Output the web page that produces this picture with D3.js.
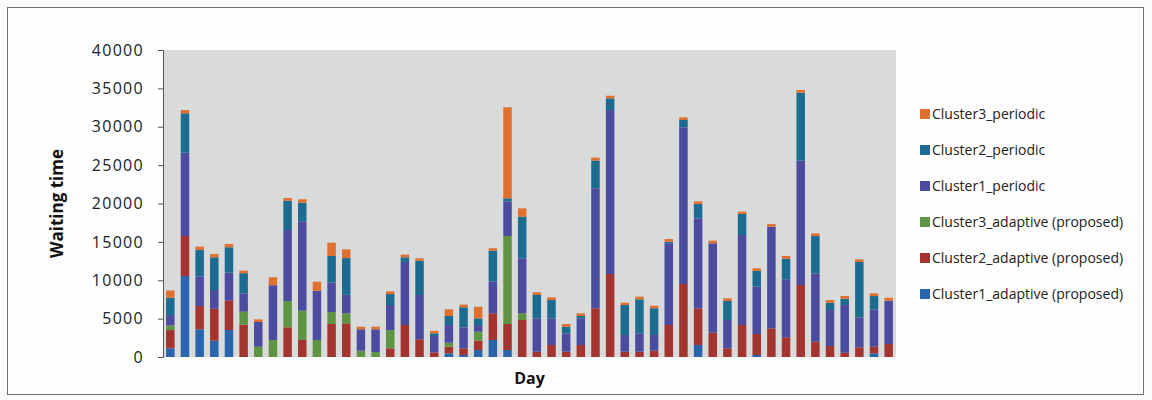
<!DOCTYPE html>
<html>
<head>
<meta charset="utf-8">
<script src="https://cdn.jsdelivr.net/npm/d3@7"></script>
<style>
  html, body { margin: 0; padding: 0; background: #fbfbfb; }
  svg { display: block; }
</style>
</head>
<body>
<svg id="chart" width="1152" height="400"></svg>
<script>
// Days 1..50
const days = d3.range(1, 51).map(String);

// Waiting time per day, one array per series (stacked bottom to top)
const cluster1Adaptive = [1130,10550,3610,2120,3520,0,0,0,0,0,0,0,0,0,0,0,0,0,0,480,260,910,2220,910,0,0,0,0,0,0,0,0,0,0,0,0,1560,0,0,0,260,0,0,0,0,0,0,0,480,0];
const cluster2Adaptive = [2380,5210,3040,4170,3820,4210,0,0,3870,2220,0,4300,4390,0,0,1130,4170,2310,610,860,870,1210,3480,3390,4820,690,1560,690,1560,6350,10810,690,690,820,4170,9510,4780,3170,1130,4170,2740,3740,2570,9380,1990,1430,560,1260,860,1690];
const cluster3Adaptive = [610,0,0,0,0,1690,1340,2220,3430,3820,2220,1560,1300,820,650,2380,0,0,0,520,0,1170,0,11470,870,0,0,0,0,0,0,0,0,0,0,0,0,0,0,0,0,0,0,0,0,0,0,0,0,0];
const cluster1Periodic = [1340,10860,3820,2440,3650,2400,3220,7130,9250,11650,6420,3820,2420,2790,2960,3260,8210,5770,2120,2310,2740,870,4120,4470,7170,4350,3480,2400,3480,15640,21370,2180,2400,2050,10650,20420,11730,11650,3690,11730,6160,13240,7560,16200,8910,4690,6220,3910,4870,5640];
const cluster2Periodic = [2250,5130,3480,4260,3310,2610,0,0,3820,2420,0,3480,4780,0,0,1430,610,4470,350,1170,2610,870,4040,440,5420,3040,2380,860,300,3600,1520,3910,4430,3480,200,950,1860,0,2480,2740,2050,0,2680,8860,4860,950,820,7210,1730,0];
const cluster3Periodic = [960,430,430,430,430,340,350,1040,350,440,1170,1730,1130,340,340,350,350,310,340,870,350,1510,310,11860,1090,350,350,350,350,390,340,300,340,340,350,350,350,340,350,300,350,350,350,350,350,350,350,350,350,390];

const seriesNames = [
  "Cluster1_adaptive (proposed)",
  "Cluster2_adaptive (proposed)",
  "Cluster3_adaptive (proposed)",
  "Cluster1_periodic",
  "Cluster2_periodic",
  "Cluster3_periodic"
];
const seriesValues = [cluster1Adaptive, cluster2Adaptive, cluster3Adaptive, cluster1Periodic, cluster2Periodic, cluster3Periodic];
const seriesColors = ["#2a64ad", "#a3342f", "#5f9445", "#4b4b9f", "#1b6c90", "#e0702f"];

const yTicks = [0, 5000, 10000, 15000, 20000, 25000, 30000, 35000, 40000];

// Table of rows for d3.stack
const rows = days.map((d, i) => {
  const r = { day: d };
  seriesNames.forEach((s, k) => { r[s] = seriesValues[k][i]; });
  return r;
});

const svg = d3.select("#chart");

// Outer frame
svg.append("rect")
  .attr("x", 7.5).attr("y", 7.5)
  .attr("width", 1136).attr("height", 387)
  .attr("fill", "#fdfdfd")
  .attr("stroke", "#6f6f6f").attr("stroke-width", 1);

const plot = { left: 163, right: 896, top: 50, bottom: 357 };

const x = d3.scaleBand()
  .domain(days)
  .range([plot.left, plot.right])
  .paddingInner(0.42)
  .paddingOuter(0.21);

const y = d3.scaleLinear()
  .domain([0, 40000])
  .range([plot.bottom, plot.top]);

// Plot area background
svg.append("rect")
  .attr("x", plot.left).attr("y", plot.top)
  .attr("width", plot.right - plot.left).attr("height", plot.bottom - plot.top)
  .attr("fill", "#d9dbdb");

const stacked = d3.stack().keys(seriesNames)(rows);

svg.append("g")
  .selectAll("g")
  .data(stacked)
  .join("g")
  .attr("fill", (d, i) => seriesColors[i])
  .selectAll("rect")
  .data(d => d.filter(s => s[1] - s[0] > 0))
  .join("rect")
  .attr("x", d => x(d.data.day))
  .attr("width", x.bandwidth())
  .attr("y", d => y(d[1]))
  .attr("height", d => y(d[0]) - y(d[1]));

// Y axis
const yAxis = svg.append("g")
  .attr("transform", `translate(${plot.left},0)`)
  .call(d3.axisLeft(y).tickValues(yTicks).tickSize(5).tickPadding(14).tickFormat(d3.format("d")));
yAxis.select(".domain").attr("stroke", "#555");
yAxis.selectAll(".tick line").attr("stroke", "#555");
yAxis.selectAll(".tick text")
  .attr("fill", "#222")
  .style("font-family", "'Open Sans', sans-serif")
  .style("font-size", "16px")
  .style("letter-spacing", "1.3px");

// Axis titles
svg.append("text")
  .attr("transform", `translate(63,${(plot.top + plot.bottom) / 2}) rotate(-90)`)
  .attr("text-anchor", "middle")
  .style("font-family", "'Open Sans', sans-serif")
  .style("font-size", "17px")
  .style("font-weight", "bold")
  .attr("fill", "#111")
  .text("Waiting time");

svg.append("text")
  .attr("x", (plot.left + plot.right) / 2)
  .attr("y", 384)
  .attr("text-anchor", "middle")
  .style("font-family", "'Open Sans', sans-serif")
  .style("font-size", "16px")
  .style("font-weight", "bold")
  .attr("fill", "#111")
  .text("Day");

// Legend (top series first)
const legendOrder = d3.range(seriesNames.length).reverse();
const legend = svg.append("g")
  .selectAll("g")
  .data(legendOrder)
  .join("g")
  .attr("transform", (d, i) => `translate(920,${114 + i * 36})`);
legend.append("rect")
  .attr("x", 0).attr("y", -5)
  .attr("width", 10).attr("height", 10)
  .attr("fill", d => seriesColors[d]);
legend.append("text")
  .attr("x", 12).attr("y", 0)
  .attr("dy", "0.35em")
  .style("font-family", "'Open Sans', sans-serif")
  .style("font-size", "14px")
  .attr("fill", "#222")
  .text(d => seriesNames[d]);
</script>
</body>
</html>
